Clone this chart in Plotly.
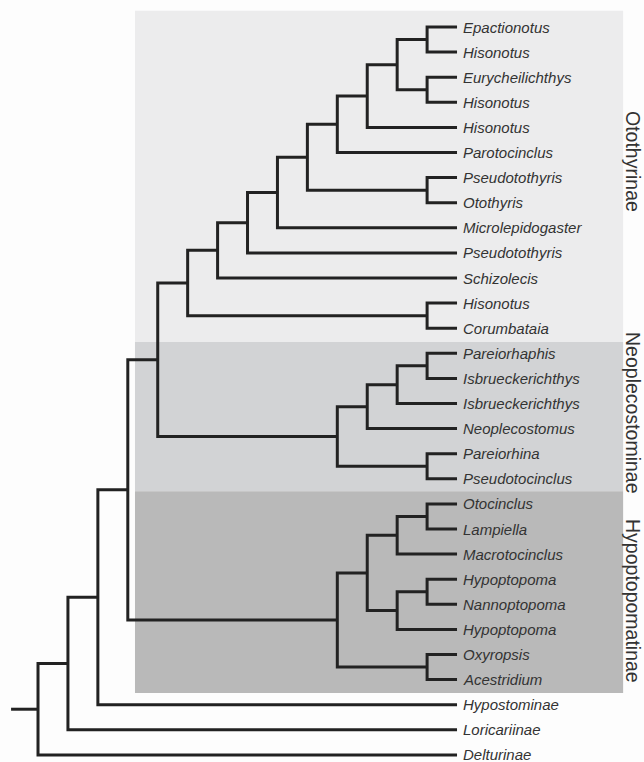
import plotly.graph_objects as go

# Terminal taxa, top to bottom
taxa = [
    "Epactionotus", "Hisonotus", "Eurycheilichthys", "Hisonotus", "Hisonotus",
    "Parotocinclus", "Pseudotothyris", "Otothyris", "Microlepidogaster",
    "Pseudotothyris", "Schizolecis", "Hisonotus", "Corumbataia",
    "Pareiorhaphis", "Isbrueckerichthys", "Isbrueckerichthys", "Neoplecostomus",
    "Pareiorhina", "Pseudotocinclus", "Otocinclus", "Lampiella", "Macrotocinclus",
    "Hypoptopoma", "Nannoptopoma", "Hypoptopoma", "Oxyropsis", "Acestridium",
    "Hypostominae", "Loricariinae", "Delturinae",
]

# Topology: leaves are indices into `taxa`, each clade is followed by its node depth
tree_newick = (
    "((((((((((((((0,1)13,(2,3)13)12,4)11,5)10,(6,7)13)9,8)8,9)7,10)6,"
    "(11,12)13)5,((((13,14)13,15)12,16)11,(17,18)13)10)4,"
    "((((19,20)13,21)12,((22,23)13,24)12)11,(25,26)13)10)3,27)2,28)1,29)0"
)
tip_depth = 14
root_stub_start = -0.9

# Subfamily bands: name, first row, last row (in leaf units), fill colour
band_names = ["Otothyrinae", "Neoplecostominae", "Hypoptopomatinae"]
band_top = [-0.65, 12.55, 18.5]
band_bottom = [12.55, 18.5, 26.53]
band_label_y = [5.34, 15.38, 22.87]
band_colors = ["#ececed", "#d2d3d5", "#b9b9b9"]
band_left = 3.24
band_right = 19.55


def parse(s, i=0):
    """Recursive-descent Newick reader returning (node, next_index)."""
    if s[i] == "(":
        children = []
        i += 1
        while True:
            child, i = parse(s, i)
            children.append(child)
            if s[i] == ",":
                i += 1
                continue
            if s[i] == ")":
                i += 1
                break
        j = i
        while j < len(s) and (s[j].isdigit() or s[j] == "."):
            j += 1
        return {"children": children, "depth": float(s[i:j])}, j
    j = i
    while j < len(s) and s[j].isdigit():
        j += 1
    return int(s[i:j]), j


root, _ = parse(tree_newick)

xs, ys = [], []


def layout(node):
    """Return (x, y) of node, appending the bracket path for clades."""
    if isinstance(node, int):
        return tip_depth, node
    pts = [layout(c) for c in node["children"]]
    d = node["depth"]
    (x1, y1), (x2, y2) = pts[0], pts[-1]
    xs.extend([x1, d, d, x2, None])
    ys.extend([y1, y1, y2, y2, None])
    return d, (y1 + y2) / 2


rx, ry = layout(root)
xs.extend([root_stub_start, rx, None])
ys.extend([ry, ry, None])

fig = go.Figure()
fig.add_trace(go.Scatter(
    x=xs, y=ys, mode="lines",
    line=dict(color="#222222", width=3),
    hoverinfo="skip", showlegend=False,
))

shapes = []
for top, bottom, col in zip(band_top, band_bottom, band_colors):
    shapes.append(dict(
        type="rect", xref="x", yref="y", layer="below",
        x0=band_left, x1=band_right, y0=top, y1=bottom,
        fillcolor=col, line=dict(width=0),
    ))

annotations = []
for i, name in enumerate(taxa):
    annotations.append(dict(
        x=tip_depth, y=i, xref="x", yref="y",
        text=f"<i>{name}</i>", showarrow=False,
        xanchor="left", yanchor="middle", xshift=4,
        font=dict(family="Liberation Sans, Arial, sans-serif", size=15, color="#333333"),
    ))
for name, ly in zip(band_names, band_label_y):
    annotations.append(dict(
        x=19.88, y=ly, xref="x", yref="y",
        text=name, showarrow=False, textangle=90,
        xanchor="center", yanchor="middle",
        font=dict(family="Liberation Sans, Arial, sans-serif", size=19.5, color="#333333"),
    ))

fig.update_layout(
    width=644, height=762,
    margin=dict(l=0, r=0, t=0, b=0),
    paper_bgcolor="#fdfdfd", plot_bgcolor="#fdfdfd",
    xaxis=dict(range=[-1.270, 20.247], visible=False, fixedrange=True),
    yaxis=dict(range=[29.283, -1.076], visible=False, fixedrange=True),
    shapes=shapes, annotations=annotations,
)

fig.write_html("out.html")
